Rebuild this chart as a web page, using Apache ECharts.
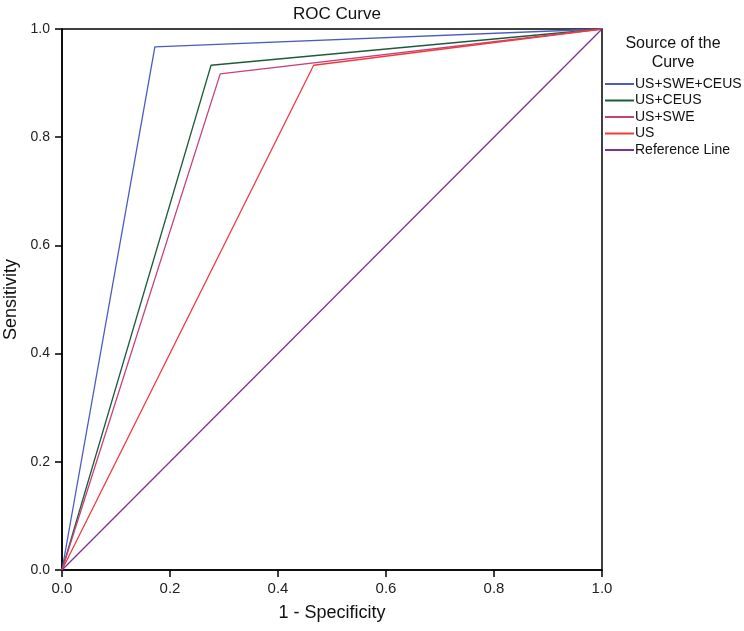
<!DOCTYPE html>
<html><head><meta charset="utf-8">
<script src="https://cdn.jsdelivr.net/npm/echarts@6/dist/echarts.min.js"></script>
<style>html,body{margin:0;padding:0;background:#fff}#c{width:744px;height:631px}</style>
</head><body><div id="c"></div>
<script>
const seriesNames = ['US+SWE+CEUS', 'US+CEUS', 'US+SWE', 'US', 'Reference Line'];
const colors = ['#4a5cc0', '#1d5c3a', '#c8407a', '#f03a40', '#7b3496'];
const fpr = [
  [0, 0.172, 1],
  [0, 0.276, 1],
  [0, 0.293, 1],
  [0, 0.466, 1],
  [0, 1]
];
const tpr = [
  [0, 0.967, 1],
  [0, 0.933, 1],
  [0, 0.917, 1],
  [0, 0.933, 1],
  [0, 1]
];
const ticks = [0, 0.2, 0.4, 0.6, 0.8, 1.0];

const chart = echarts.init(document.getElementById('c'));
const font = 'Liberation Sans, Arial, sans-serif';
const axisCommon = {
  type: 'value', min: 0, max: 1, interval: 0.2,
  axisLine: { show: true, lineStyle: { color: '#000', width: 1.5 } },
  axisTick: { show: true, inside: false, length: 7, lineStyle: { color: '#000', width: 1.5 } },
  splitLine: { show: false },
  nameLocation: 'middle',
  nameTextStyle: { color: '#111', fontSize: 18, fontFamily: font }
};
const labelBase = { color: '#222', fontFamily: 'Liberation Sans Narrow, Liberation Sans, Arial', formatter: v => v.toFixed(1) };
chart.setOption({
  animation: false,
  title: { text: 'ROC Curve', left: 332, textAlign: 'center', top: 1, textStyle: { fontSize: 17, fontWeight: 'normal', color: '#111', fontFamily: font } },
  grid: { left: 62, right: 142, top: 29, bottom: 61, outerBoundsMode: 'none', containLabel: false, show: true, borderColor: '#000', borderWidth: 1.5, backgroundColor: 'transparent' },
  xAxis: Object.assign({}, axisCommon, { name: '1 - Specificity', nameGap: 34, axisLabel: Object.assign({ fontSize: 15, margin: 11 }, labelBase) }),
  yAxis: Object.assign({}, axisCommon, { name: 'Sensitivity', nameGap: 41, axisLabel: Object.assign({ fontSize: 14, margin: 12 }, labelBase) }),
  legend: {
    orient: 'vertical', left: 605, top: 76, padding: 0, itemGap: 0.5, itemWidth: 29, itemHeight: 2, icon: 'rect',
    textStyle: { fontSize: 14, lineHeight: 16, color: '#111', fontFamily: font, padding: [0, 0, 0, -4] },
    data: seriesNames
  },
  graphic: [{
    type: 'text', left: 673 - 60, top: 34,
    style: { text: 'Source of the\nCurve', width: 120, align: 'center', textAlign: 'center', x: 60, fontSize: 16, lineHeight: 19, fill: '#111', fontFamily: font }
  }],
  series: seriesNames.map((n, i) => ({
    name: n, type: 'line', symbol: 'none', color: colors[i],
    lineStyle: { width: 1.3, color: colors[i] },
    data: fpr[i].map((x, j) => [x, tpr[i][j]])
  }))
});
</script></body></html>
